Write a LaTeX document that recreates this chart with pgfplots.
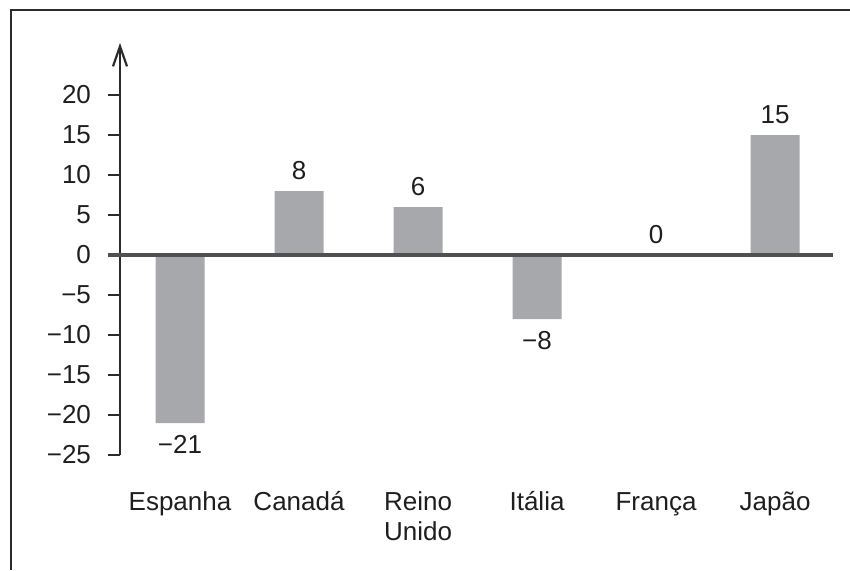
\documentclass[border=0pt]{standalone}
\usepackage{pgfplots}
\pgfplotsset{compat=1.18}
\usetikzlibrary{arrows.meta}
\usepackage{fontspec}
\setmainfont{Liberation Sans}
\definecolor{bargray}{HTML}{A7A8AC}
\definecolor{zerogray}{HTML}{505050}
\definecolor{axisdark}{HTML}{2B2B2B}
\definecolor{textdark}{HTML}{1E1E1E}
\newcommand{\st}{\rule{0pt}{10.5pt}}
\begin{document}
\begin{tikzpicture}
\useasboundingbox (0,0) rectangle (425pt,285pt);
\draw[line width=1.3pt, axisdark] (5.5pt,0pt) -- (5.5pt,280pt) -- (425pt,280pt);
\begin{axis}[
  at={(60pt,57.5pt)}, anchor=south west,
  scale only axis, width=356.5pt, height=206pt,
  xmin=-0.5042, xmax=5.487, ymin=-25, ymax=26.5,
  enlarge x limits=false, enlarge y limits=false,
  clip=false,
  axis y line=left, axis x line*=bottom,
  x axis line style={draw=none},
  y axis line style={line width=1.1pt, draw=axisdark, -{Straight Barb[length=10pt,width=7pt]}},
  ytick={-25,-20,...,20},
  yticklabels={−25,−20,−15,−10,−5,0,5,10,15,20},
  xtick={0,...,5},
  xticklabels={\st Espanha,\st Canadá,{\st Reino\\Unido},\st Itália,\st França,\st Japão},
  x tick style={draw=none},
  y tick style={line width=1.1pt, draw=axisdark},
  tick align=outside, major tick length=6pt,
  tick label style={font=\fontsize{13}{15}\selectfont, text=textdark},
  yticklabel style={xshift=-5pt},
  xticklabel style={anchor=north, align=center, yshift=-7.5pt},
  ybar, bar width=24.5pt, bar shift=0pt,
]
\addplot[fill=bargray, draw=none, nodes near coords, point meta=explicit symbolic,
  every node near coord/.append style={font=\fontsize{13}{15}\selectfont, text=textdark, inner sep=0pt, anchor=south, yshift=5.5pt}]
  coordinates {(1,8) [8] (2,6) [6] (4,0) [0] (5,15) [15]};
\addplot[fill=bargray, draw=none, nodes near coords, point meta=explicit symbolic,
  every node near coord/.append style={font=\fontsize{13}{15}\selectfont, text=textdark, inner sep=0pt, anchor=north, yshift=-6pt}]
  coordinates {(0,-21) [−21] (3,-8) [−8]};
\addplot[sharp plot, draw=zerogray, line width=1.6pt, mark=none] coordinates {(-0.605,0) (5.487,0)};
\end{axis}
\end{tikzpicture}
\end{document}
